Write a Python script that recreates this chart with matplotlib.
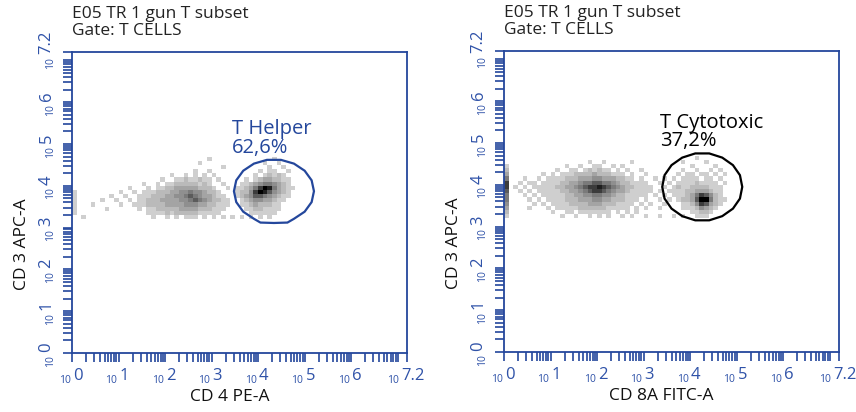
import numpy as np
import matplotlib
matplotlib.use("Agg")
import matplotlib.pyplot as plt
from matplotlib.colors import LinearSegmentedColormap
from matplotlib.transforms import blended_transform_factory

plt.rcParams['font.family'] = ['Open Sans', 'DejaVu Sans']

# ---- data (axes in log10 decades) ----
title_lines = ["E05 TR 1 gun T subset", "Gate: T CELLS"]
y_label = "CD 3 APC-A"
x_labels = ["CD 4 PE-A", "CD 8A FITC-A"]
gate_names = ["T Helper", "T Cytotoxic"]
gate_percents = ["62,6%", "37,2%"]
decades = [0, 1, 2, 3, 4, 5, 6, 7]
labelled_decades = ["0", "1", "2", "3", "4", "5", "6", "7.2"]
axis_max = 7.2

# density (0 = empty, 9 = darkest), 0.1-decade cells
# columns: x = 0.0 .. 5.0, rows: y = 4.8 (top) .. 3.0 (bottom)
cd4_density = [
    "0000000000 0000000000 0000000000 0000000000 0000000000",
    "0000000000 0000000000 0000000001 0000000000 0001000000",
    "0000000000 0000000000 0000000100 0000000000 0100100000",
    "0000000000 0000000000 0000000000 0010000000 0010010000",
    "0000000000 0000000000 0000001001 0000000000 1011001000",
    "0000000000 0000000000 0100101010 1000000001 0121210000",
    "0000000000 0000000001 0011211211 0100000101 2332211000",
    "0000000000 0000010010 1122222121 0010001123 4554321000",
    "0000000000 0010001011 2233333222 1001011235 7985321100",
    "1000000000 1001011122 2334454432 2100012247 9864321000",
    "1000000010 0100111222 3344565433 2110012346 6543211000",
    "1000001001 0010112223 3334456543 2211001234 4332110000",
    "1000100000 1001112222 3333444332 2111001123 2221100000",
    "1000000100 0000101122 2223333222 1110000112 2111100000",
    "1000000000 0000001111 2122222111 1100000011 1111000000",
    "0010000000 0000000100 1010111010 1010101010 1010000000",
    "0000000000 0000000000 0000000000 0000000000 0000000000",
    "0000000000 0000000000 0000000000 0000000000 0000000000",
]
cd8_density = [
    "0000000000 0000000000 0000000000 0000000000 0000000000",
    "0000000000 0000000000 0000000000 0000000000 0100000000",
    "0000000000 0000000010 0100000100 0000000010 0001000000",
    "1000000000 0001001001 1001010000 0000000000 1000010000",
    "2000000000 0100110121 2110101001 0000000010 0100101000",
    "3000000010 1011122223 2221110100 1000000101 1011010100",
    "5000100101 1112223334 4333221101 0010101011 1101101000",
    "7001011011 1122334556 6554322111 1001010111 1211110100",
    "7010101111 1223345677 8765432211 1100101211 2222111000",
    "6001010111 1122334567 7654332111 1101011112 2333211000",
    "5000101011 1112233445 5443221111 1010101112 3576421000",
    "5000010101 1112223334 4332221110 1001010122 3699521100",
    "4000001010 1111222233 3222111101 0100100011 2476321000",
    "3000010001 0111112222 2211111010 1001000011 1243210000",
    "2000000000 1001101111 1110101010 0000000000 1122100000",
    "1000000000 0010010010 1010010100 1001001010 0111000000",
    "0000000000 0000000000 0000000000 0000000000 0000000000",
    "0000000000 0000000000 0000000000 0000000000 0000000000",
]
density_x_range = (0.0, 5.0)
density_y_range = (3.0, 4.8)

# gate outlines (decades)
cd4_gate_x = [5.20, 5.15, 5.00, 4.77, 4.49, 4.19, 3.91, 3.68, 3.53, 3.48,
              3.53, 3.68, 3.91, 4.05, 4.34, 4.63, 4.77, 5.00, 5.15]
cd4_gate_y = [3.87, 4.13, 4.36, 4.53, 4.62, 4.62, 4.53, 4.36, 4.13, 3.87,
              3.61, 3.38, 3.21, 3.12, 3.11, 3.12, 3.21, 3.38, 3.61]
cd8_gate_x = [5.12, 5.07, 4.92, 4.69, 4.41, 4.11, 3.83, 3.60, 3.45, 3.40,
              3.45, 3.60, 3.83, 4.11, 4.41, 4.69, 4.92, 5.07]
cd8_gate_y = [3.95, 4.23, 4.47, 4.65, 4.75, 4.75, 4.65, 4.47, 4.23, 3.95,
              3.67, 3.43, 3.25, 3.15, 3.15, 3.25, 3.43, 3.67]

BLUE = "#24479c"
TICK_BLUE = "#2f52a8"
cmap = LinearSegmentedColormap.from_list("dots", ["#cfcfcf", "#7a7a7a", "#000000"])


def parse_grid(rows):
    return np.array([[int(ch) for ch in r.replace(" ", "")] for r in rows])


def log_ticks():
    pos = []
    for k in decades:
        for m in range(1, 10):
            p = k + np.log10(m)
            if p < axis_max:
                pos.append(p)
    pos.append(axis_max)
    return pos


def tick_labels(ax):
    tx = blended_transform_factory(ax.transData, ax.transAxes)
    ty = blended_transform_factory(ax.transAxes, ax.transData)
    for exp in labelled_decades:
        v = float(exp)
        # the last label sits a little inside the axis end
        sx = 0.15 if v == axis_max else 0.0
        sy = 0.08 if v == axis_max else 0.0
        # x axis
        ax.text(v - sx - 0.03, -0.098, "10", transform=tx, ha="right", va="baseline",
                fontsize=7.5, color=TICK_BLUE)
        ax.text(v - sx + 0.02, -0.09, exp, transform=tx, ha="left", va="baseline",
                fontsize=12, color=TICK_BLUE)
        # y axis
        ax.text(-0.058, v - sy - 0.04, "10", transform=ty, ha="right", va="baseline",
                rotation=90, rotation_mode="anchor", fontsize=7.5, color=TICK_BLUE)
        ax.text(-0.064, v - sy + 0.03, exp, transform=ty, ha="left", va="baseline",
                rotation=90, rotation_mode="anchor", fontsize=12, color=TICK_BLUE)


def draw_panel(ax, grid_rows, gate_x, gate_y, gate_color, name, pct, xlabel):
    grid = parse_grid(grid_rows)[::-1]
    nrows, ncols = grid.shape
    xe = np.linspace(density_x_range[0], density_x_range[1], ncols + 1)
    ye = np.linspace(density_y_range[0], density_y_range[1], nrows + 1)
    ax.pcolormesh(xe, ye, np.ma.masked_equal(grid, 0), cmap=cmap, vmin=1, vmax=9)

    ax.fill(gate_x, gate_y, fill=False, edgecolor=gate_color, lw=1.6)
    ax.text(min(gate_x) - 0.04, max(gate_y) + 0.62, name, color=gate_color,
            fontsize=14.5, ha="left", va="baseline")
    ax.text(min(gate_x) - 0.04, max(gate_y) + 0.17, pct, color=gate_color,
            fontsize=14.5, ha="left", va="baseline")

    ax.set_xlim(0, axis_max)
    ax.set_ylim(0, axis_max)
    ticks = log_ticks()
    ax.set_xticks(ticks, labels=[])
    ax.set_yticks(ticks, labels=[])
    ax.tick_params(direction="out", length=6.5, width=1.2, color=BLUE)
    for sp in ax.spines.values():
        sp.set_color(BLUE)
        sp.set_linewidth(1.3)
    tick_labels(ax)

    ax.set_xlabel(xlabel, fontsize=12.5, color="#111111")
    ax.xaxis.set_label_coords(0.47, -0.118)
    ax.set_ylabel(y_label, fontsize=12.5, color="#111111")
    ax.yaxis.set_label_coords(-0.125, 0.36)
    ax.text(0.0, 1.113, title_lines[0], transform=ax.transAxes, fontsize=12.5,
            ha="left", va="baseline", color="#222222")
    ax.text(0.0, 1.055, title_lines[1], transform=ax.transAxes, fontsize=12.5,
            ha="left", va="baseline", color="#222222")


fig = plt.figure(figsize=(8.56, 4.12), dpi=100)
ax1 = fig.add_axes([0.0841, 0.1432, 0.3914, 0.7306])
ax2 = fig.add_axes([0.5888, 0.1456, 0.3914, 0.7306])

draw_panel(ax1, cd4_density, cd4_gate_x, cd4_gate_y, BLUE,
           gate_names[0], gate_percents[0], x_labels[0])
draw_panel(ax2, cd8_density, cd8_gate_x, cd8_gate_y, "#000000",
           gate_names[1], gate_percents[1], x_labels[1])

fig.savefig("out.png", dpi=100)
plt.close(fig)
